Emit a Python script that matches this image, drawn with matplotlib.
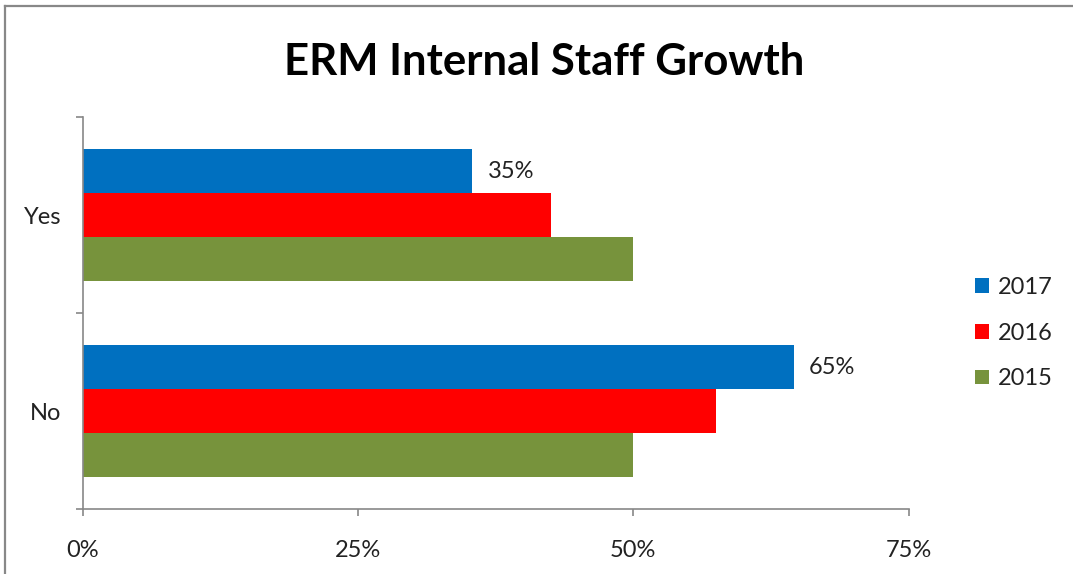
import matplotlib
matplotlib.use("Agg")
import matplotlib.pyplot as plt
from matplotlib.lines import Line2D
from matplotlib.patches import Patch
from matplotlib.ticker import FuncFormatter

plt.rcParams['font.family'] = ['Lato', 'DejaVu Sans']

# data (fractions)
categories = ['No', 'Yes']
years = ['2017', '2016', '2015']
vals_2017 = [0.646, 0.354]
vals_2016 = [0.575, 0.425]
vals_2015 = [0.50, 0.50]
colors = ['#0070C0', '#FF0000', '#77933C']

W, H = 1073, 574
fig = plt.figure(figsize=(W / 100, H / 100), dpi=100)
ax = fig.add_axes([82.5 / W, 1 - 509 / H, 826 / W, 392 / H])

bh = 0.224
ypos = list(range(len(categories)))
series = [vals_2017, vals_2016, vals_2015]
offsets = [bh, 0, -bh]
for vals, off, c in zip(series, offsets, colors):
    ax.barh([y + off for y in ypos], vals, height=bh, color=c, edgecolor='none')

# labels only on 2017 series
for y, v in zip(ypos, vals_2017):
    ax.annotate(f"{round(v * 100):.0f}%", xy=(v, y + bh), xytext=(11, 0),
                textcoords='offset points', va='center', ha='left',
                fontsize=17, color='#222222')

ax.set_xlim(0, 0.75)
ax.set_ylim(-0.5, 1.5)
ax.set_xticks([0, 0.25, 0.5, 0.75])
ax.xaxis.set_major_formatter(FuncFormatter(lambda x, p: f"{x * 100:.0f}%"))
ax.set_yticks([-0.5, 0.5, 1.5])
ax.set_yticklabels([])
ax.set_yticks(ypos, minor=True)
ax.set_yticklabels(categories, minor=True)
ax.tick_params(axis='y', which='minor', length=0, pad=15, labelsize=17, labelcolor='#222222')
ax.tick_params(axis='y', which='major', length=5, color='#888888', width=1.2)
ax.tick_params(axis='x', length=5, color='#888888', width=1.2, pad=17, labelsize=17,
               labelcolor='#222222')

for s in ['top', 'right']:
    ax.spines[s].set_visible(False)
for s in ['left', 'bottom']:
    ax.spines[s].set_color('#888888')
    ax.spines[s].set_linewidth(1.2)

fig.text(544 / W, 1 - 75 / H, 'ERM Internal Staff Growth', ha='center', va='baseline',
         fontsize=31.5, fontweight='bold', color='black')

handles = [Patch(facecolor=c, edgecolor='none') for c in colors]
fig.legend(handles, years, loc='center left', bbox_to_anchor=(975 / W, 1 - 333 / H),
           frameon=False, fontsize=17, handlelength=0.58, handleheight=0.58,
           handletextpad=0.4, labelspacing=1.05, borderpad=0, borderaxespad=0,
           labelcolor='#222222')

# outer chart border (left and top edges visible)
fig.add_artist(Line2D([5 / W, 5 / W], [0, 1 - 6 / H], transform=fig.transFigure,
                      color='#888888', lw=1.6))
fig.add_artist(Line2D([5 / W, 1], [1 - 6 / H, 1 - 6 / H], transform=fig.transFigure,
                      color='#888888', lw=1.6))

fig.savefig('out.png', dpi=100)
